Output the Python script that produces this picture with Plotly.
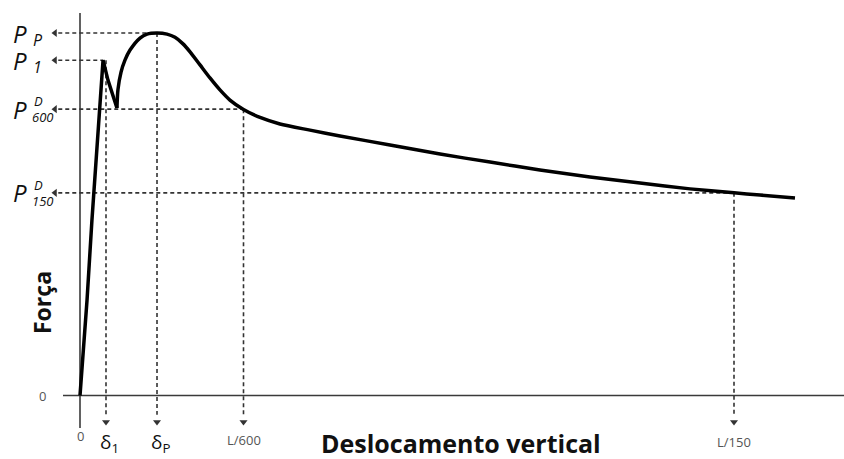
import plotly.graph_objects as go

# ---- data (normalised units: displacement in units of L/600, force in units of P_P)
d1 = 0.159      # delta_1
dP = 0.471      # delta_P
L600 = 1.0
L150 = 4.0
PP = 1.0
P1 = 0.925
P600 = 0.790
P150 = 0.559
xP1 = 0.141     # displacement at P1 peak

# branch 1: near-linear rise to P1 and drop to the dip
curve1_x = [0.0, 0.043, 0.073, 0.110, 0.141, 0.171, 0.202, 0.226]
curve1_y = [0.0, 0.263, 0.484, 0.732, 0.925, 0.870, 0.823, 0.793]
# branch 2: hardening up to P_P and softening tail
curve2_x = [0.226, 0.232, 0.251, 0.275, 0.306, 0.367, 0.410, 0.471, 0.532, 0.581, 0.630,
            0.673, 0.734, 0.795, 0.856, 0.917, 1.0, 1.101, 1.223, 1.407, 1.590, 1.896,
            2.202, 2.508, 2.813, 3.119, 3.425, 3.731, 4.0, 4.159, 4.373]
curve2_y = [0.793, 0.843, 0.892, 0.925, 0.953, 0.986, 0.997, 1.0, 0.997, 0.988, 0.970,
            0.948, 0.912, 0.876, 0.843, 0.815, 0.789, 0.767, 0.749, 0.732, 0.716, 0.691,
            0.666, 0.644, 0.622, 0.603, 0.586, 0.570, 0.559, 0.553, 0.545]

x_labels = ["0", "δ<sub>1</sub>", "δ<sub>P</sub>", "L/600", "L/150"]

# ---- layout geometry
W, H = 844, 459
X0PIX, PX = 80, 163.5     # pixel of x=0, pixels per unit
Y0PIX, PY = 395.5, 362.5  # pixel of y=0, pixels per unit
def xd(p): return (p - X0PIX) / PX
def yd(p): return (Y0PIX - p) / PY

xr = [xd(0), xd(W)]
yr = [yd(H), yd(0)]

x_arrow = xd(55)
y_arrow = yd(422)

fig = go.Figure()

DASH = dict(color="#333333", width=1.6, dash="4px,3px")

# axis lines
fig.add_trace(go.Scatter(x=[0, 0], y=[yd(13), yd(428)], mode="lines",
                         line=dict(color="#3a3a3a", width=1.6), hoverinfo="skip"))
fig.add_trace(go.Scatter(x=[xd(63), xd(W)], y=[0, 0], mode="lines",
                         line=dict(color="#3a3a3a", width=1.6), hoverinfo="skip"))

# horizontal dashed guides
for yv, xe in [(PP, dP), (P1, xP1), (P600, L600), (P150, L150)]:
    fig.add_trace(go.Scatter(x=[x_arrow + 0.02, xe], y=[yv, yv], mode="lines",
                             line=DASH, hoverinfo="skip"))
fig.add_trace(go.Scatter(x=[x_arrow] * 4, y=[PP, P1, P600, P150], mode="markers",
                         marker=dict(symbol="triangle-left", size=7, color="#333333"),
                         hoverinfo="skip"))
# vertical dashed guides
for xv, ys in [(d1, P1), (dP, PP), (L600, P600), (L150, P150)]:
    fig.add_trace(go.Scatter(x=[xv, xv], y=[ys, y_arrow + 0.02], mode="lines",
                             line=DASH, hoverinfo="skip"))
fig.add_trace(go.Scatter(x=[d1, dP, L600, L150], y=[y_arrow] * 4, mode="markers",
                         marker=dict(symbol="triangle-down", size=7, color="#333333"),
                         hoverinfo="skip"))

# main curve
fig.add_trace(go.Scatter(x=curve1_x, y=curve1_y, mode="lines",
                         line=dict(color="black", width=3.5), hoverinfo="skip"))
fig.add_trace(go.Scatter(x=curve2_x, y=curve2_y, mode="lines",
                         line=dict(color="black", width=3.5, shape="spline", smoothing=0.7),
                         hoverinfo="skip"))

ann = []
LBL = dict(family="Open Sans", size=24, color="#111111")
SM = dict(family="Open Sans", size=13, color="#111111")
# left force labels
xP = xd(11)
for yv, sub in [(PP, "P"), (P1, "1")]:
    ann.append(dict(x=xP, y=yv, text="<i>P</i>", xanchor="left", yanchor="middle",
                    showarrow=False, font=LBL))
    ann.append(dict(x=xd(31), y=yv, yshift=-7, text="<i>" + sub + "</i>", xanchor="left",
                    yanchor="middle", showarrow=False,
                    font=dict(family="Open Sans", size=16, color="#111111")))
for yv, sub in [(P600, "600"), (P150, "150")]:
    ann.append(dict(x=xP, y=yv, text="<i>P</i>", xanchor="left", yanchor="middle",
                    showarrow=False, font=LBL))
    ann.append(dict(x=xd(32), y=yv, yshift=8, text="<i>D</i>", xanchor="left",
                    yanchor="middle", showarrow=False, font=SM))
    ann.append(dict(x=xd(30), y=yv, yshift=-8, text="<i>" + sub + "</i>", xanchor="left",
                    yanchor="middle", showarrow=False, font=SM))
# y tick zero
ann.append(dict(x=xd(42), y=0, text="0", showarrow=False,
                font=dict(family="Open Sans", size=13, color="#555555")))
# x tick labels
GR = dict(family="Open Sans", size=13, color="#555555")
ann.append(dict(x=0, y=yd(436), text=x_labels[0], showarrow=False, font=GR))
ann.append(dict(x=d1, y=yd(443), xshift=3, text=x_labels[1], showarrow=False,
                font=dict(family="Open Sans", size=19, color="#111111")))
ann.append(dict(x=dP, y=yd(443), xshift=3, text=x_labels[2], showarrow=False,
                font=dict(family="Open Sans", size=19, color="#111111")))
ann.append(dict(x=L600, y=yd(440), text=x_labels[3], showarrow=False, font=GR))
ann.append(dict(x=L150, y=yd(442), text=x_labels[4], showarrow=False, font=GR))
# axis titles
ann.append(dict(x=xd(461), y=yd(443), text="<b>Deslocamento vertical</b>", showarrow=False,
                font=dict(family="Open Sans", size=25, color="#111111")))
ann.append(dict(x=xd(42), y=yd(303), text="<b>Força</b>", showarrow=False, textangle=-90,
                font=dict(family="Open Sans", size=23, color="#111111")))

fig.update_layout(
    width=W, height=H, margin=dict(l=0, r=0, t=0, b=0),
    paper_bgcolor="white", plot_bgcolor="white", showlegend=False,
    xaxis=dict(range=xr, visible=False, fixedrange=True),
    yaxis=dict(range=yr, visible=False, fixedrange=True),
    annotations=ann,
)
fig.write_html("out.html")
